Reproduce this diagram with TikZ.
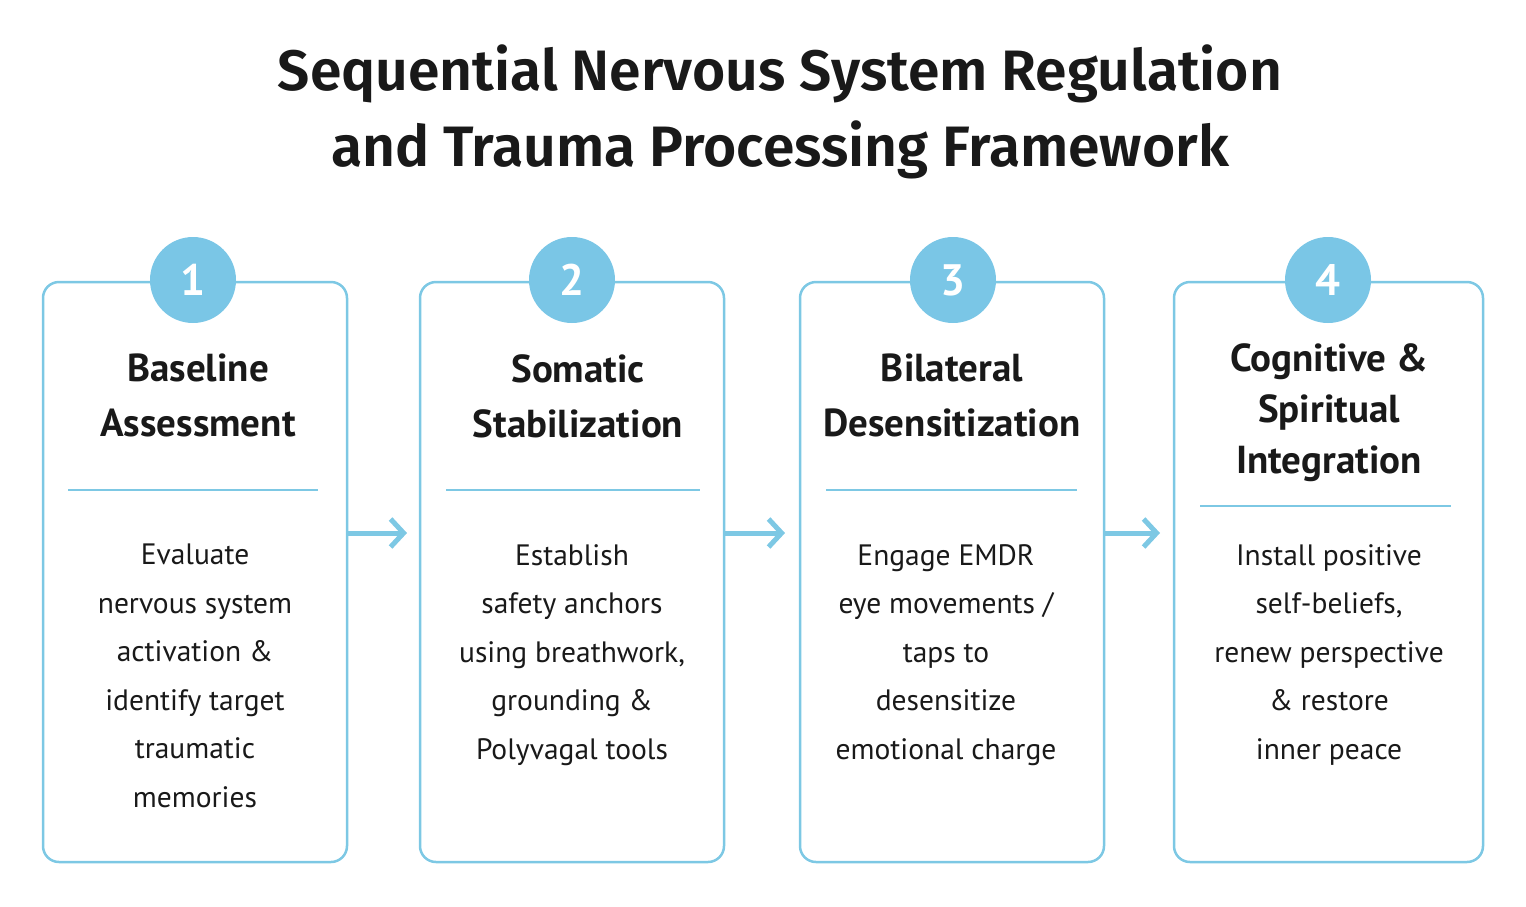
\documentclass[tikz,border=0pt]{standalone}
\usepackage{fontspec}
\setmainfont{PT Sans}
\newfontfamily\titlefont{Fira Sans SemiBold}
\usetikzlibrary{arrows.meta}
\definecolor{lb}{RGB}{125,200,228}
\definecolor{cb}{RGB}{122,198,230}
\definecolor{tx}{RGB}{25,25,25}
\tikzset{
 card/.style={draw=lb,line width=2.5pt,rounded corners=16pt},
 num/.style={circle,fill=cb,minimum size=86pt,inner sep=0,text=white,font=\fontsize{44}{44}\selectfont\bfseries},
 head/.style={anchor=north,inner sep=0,align=center,text=tx,font=\fontsize{39}{55}\selectfont\bfseries},
 body/.style={anchor=north,inner sep=0,align=center,text=tx,font=\fontsize{29.5}{48.5}\selectfont},
 sep/.style={draw=lb,line width=2.5pt},
 flow/.style={draw=lb,line width=5pt,-{Straight Barb[length=13pt,width=28pt,line width=5pt]}}
}
\begin{document}
\begin{tikzpicture}[x=1pt,y=-1pt]
\useasboundingbox (0,0) rectangle (1526,906);
\node[inner sep=0,align=center,text=tx,font=\titlefont\fontsize{57}{76}\selectfont] (title) at (780,112) {Sequential Nervous System Regulation\\and Trauma Processing Framework};
% cards
\draw[card] (43,282) rectangle (347,862); \node (c1) at (195,572) {};
\draw[card] (420,282) rectangle (724,862); \node (c2) at (572,572) {};
\draw[card] (800,282) rectangle (1104,862); \node (c3) at (952,572) {};
\draw[card] (1174,282) rectangle (1483,862); \node (c4) at (1328,572) {};
\node[num] (n1) at (193,280) {1};
\node[num] (n2) at (572,280) {2};
\node[num] (n3) at (953,280) {3};
\node[num] (n4) at (1328,280) {4};
\node[head] (h1) at (198,354) {Baseline\\Assessment};
\node[head] (h2) at (578,354) {Somatic\\Stabilization};
\node[head] (h3) at (952,354) {Bilateral\\Desensitization};
\node[head,font=\fontsize{39}{51}\selectfont\bfseries] (h4) at (1329,343) {Cognitive \&\\Spiritual\\Integration};
\draw[sep] (68,490) -- (318,490);
\draw[sep] (446,490) -- (700,490);
\draw[sep] (826,490) -- (1077,490);
\draw[sep] (1200,506) -- (1451,506);
\node[body] (b1) at (195,544) {Evaluate\\nervous system\\activation \&\\identify target\\traumatic\\memories};
\node[body] (b2) at (572,544) {Establish\\safety anchors\\using breathwork,\\grounding \&\\Polyvagal tools};
\node[body] (b3) at (946,544) {Engage EMDR\\eye movements /\\taps to\\desensitize\\emotional charge};
\node[body] (b4) at (1329,544) {Install positive\\self-beliefs,\\renew perspective\\\& restore\\inner peace};
\coordinate (a1s) at (348,533); \coordinate (a1e) at (407,533);
\coordinate (a2s) at (725,533); \coordinate (a2e) at (785,533);
\coordinate (a3s) at (1105,533); \coordinate (a3e) at (1160,533);
\draw[flow] (a1s) -- (a1e);
\draw[flow] (a2s) -- (a2e);
\draw[flow] (a3s) -- (a3e);
\end{tikzpicture}
\end{document}
